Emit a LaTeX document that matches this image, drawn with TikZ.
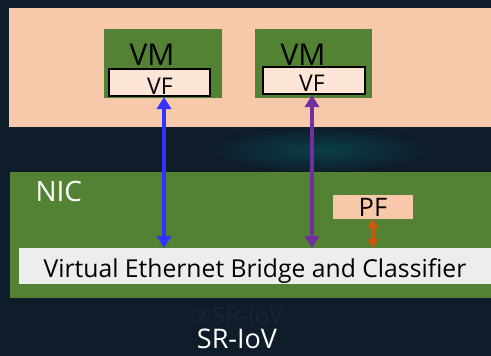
\documentclass[tikz,border=0pt]{standalone}
\usepackage{fontspec}
\setmainfont{Open Sans}
\newfontfamily\symfont{DejaVu Sans}
\usetikzlibrary{arrows.meta}
\definecolor{bgdark}{HTML}{0F1D2B}
\definecolor{peach}{HTML}{F7C9AA}
\definecolor{vmgreen}{HTML}{548235}
\definecolor{vffill}{HTML}{FCE4D6}
\definecolor{vebgray}{HTML}{EDEDED}
\definecolor{arblue}{HTML}{3333FF}
\definecolor{arpurple}{HTML}{7030A0}
\definecolor{arorange}{HTML}{C55A11}
\definecolor{dimtext}{HTML}{1B2433}
\tikzset{
  box/.style={draw=none, anchor=north west, inner sep=0pt, outer sep=0pt},
  vfbox/.style={box, fill=vffill, draw=black, line width=1.5pt},
  dbl/.style={line width=4pt, {Triangle[width=14pt,length=12pt]}-{Triangle[width=14pt,length=12pt]}},
}
\begin{document}
\begin{tikzpicture}[x=1pt,y=-1pt]
\fill[bgdark] (0,0) rectangle (491,356);
\useasboundingbox (0,0) rectangle (491,356);
\fill[inner color=teal!35!bgdark, outer color=bgdark] (320,150) ellipse (110 and 22);
% host
\node[box, fill=peach, minimum width=482pt, minimum height=119pt] (host) at (9,8) {};
% VM1
\node[box, fill=vmgreen, minimum width=118pt, minimum height=69pt] (vm1) at (104,29) {};
\node[font=\fontsize{30}{30}\selectfont, anchor=base] (vm1t) at (152,66) {VM};
\node[vfbox, minimum width=101pt, minimum height=27pt] (vf1) at (109,69) {};
\begin{scope}
\clip (vf1.north west) rectangle (vf1.south east);
\node[font=\fontsize{23}{23}\selectfont, anchor=base] (vf1t) at (160,94) {VF};
\end{scope}
% VM2
\node[box, fill=vmgreen, minimum width=117pt, minimum height=69pt] (vm2) at (255,29) {};
\node[font=\fontsize{30}{30}\selectfont, anchor=base] (vm2t) at (303,66) {VM};
\node[vfbox, minimum width=102pt, minimum height=27pt] (vf2) at (263,67) {};
\begin{scope}
\clip (vf2.north west) rectangle (vf2.south east);
\node[font=\fontsize{23}{23}\selectfont, anchor=base] (vf2t) at (312,92) {VF};
\end{scope}
% NIC
\node[box, fill=vmgreen, minimum width=481pt, minimum height=126pt] (nic) at (10,172) {};
\node[font=\fontsize{28}{28}\selectfont, text=white, anchor=base west] (nict) at (32,201) {NIC};
\node[box, fill=vebgray, minimum width=472pt, minimum height=36pt] (veb) at (19,248) {};
\node[font=\fontsize{24.7}{24.7}\selectfont, anchor=base] (vebt) at (255,277) {Virtual Ethernet Bridge and Classifier};
\node[box, fill=peach, minimum width=80pt, minimum height=24pt] (pf) at (333,195) {};
\node[font=\fontsize{25.5}{25.5}\selectfont, anchor=base] (pft) at (pf.center |- 0,216) {PF};
% arrows
\coordinate (a1t) at (164,97);
\coordinate (a1b) at (164,248);
\draw[dbl, arblue] (a1t) -- (a1b);
\coordinate (a2t) at (312,95);
\coordinate (a2b) at (312,248);
\draw[dbl, arpurple] (a2t) -- (a2b);
\draw[arorange, line width=3.5pt, {Triangle[width=12pt,length=9pt]}-{Triangle[width=12pt,length=9pt]}] (pf.south -| 373,0) -- (veb.north -| 373,0);
% captions
\node[font=\fontsize{24}{24}\selectfont, text=dimtext, anchor=base] (cap1) at (237,324) {{\symfont ②}SR-IoV};
\node[font=\fontsize{27}{27}\selectfont, text=white, anchor=base] (cap2) at (237,348) {SR-IoV};
\end{tikzpicture}
\end{document}
